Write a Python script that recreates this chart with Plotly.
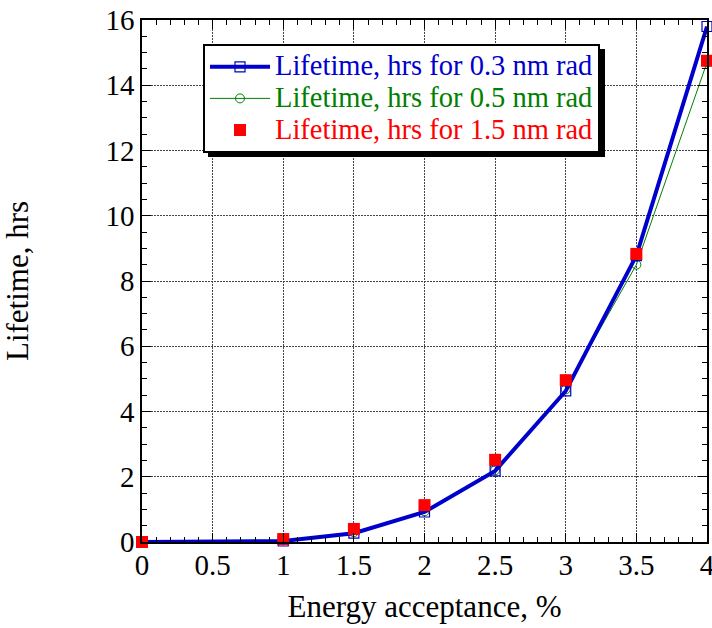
import plotly.graph_objects as go

x_vals = [0, 1, 1.5, 2, 2.5, 3, 3.5, 4]
life_03 = [0.0, 0.03, 0.27, 0.92, 2.18, 4.63, 8.78, 15.8]
life_05 = [0.0, 0.05, 0.3, 0.94, 2.2, 4.68, 8.5, 14.7]
life_15 = [0.0, 0.09, 0.4, 1.13, 2.52, 4.96, 8.83, 14.75]

names = ["Lifetime, hrs for 0.3 nm rad",
         "Lifetime, hrs for 0.5 nm rad",
         "Lifetime, hrs for 1.5 nm rad"]

FONT = "Liberation Serif"
def lg(name, color):
    return f"<span style='color:{color};font-size:28.5px'>{name}</span>"

fig = go.Figure()
fig.add_trace(go.Scatter(x=x_vals, y=life_05, mode="lines+markers",
                         name=lg(names[1], "#008000"), legendrank=2,
                         line=dict(color="#008000", width=1),
                         marker=dict(symbol="circle-open", size=9, color="#008000", line=dict(width=1)),
                         cliponaxis=False))
fig.add_trace(go.Scatter(x=x_vals, y=life_03, mode="lines+markers",
                         name=lg(names[0], "#0000CC"), legendrank=1,
                         line=dict(color="#0000CC", width=4),
                         marker=dict(symbol="square-open", size=10, color="#0000CC", line=dict(width=1.2)),
                         cliponaxis=False))
fig.add_trace(go.Scatter(x=x_vals, y=life_15, mode="markers",
                         name=lg(names[2], "#FF0000"), legendrank=3,
                         marker=dict(symbol="square", size=12, color="#FF0000"),
                         cliponaxis=False))

# legend shadow
L, B = 142, 542
W, H = 565, 522
def px(x): return (x - L) / W
def py(y): return (B - y) / H
fig.add_shape(type="rect", xref="paper", yref="paper",
              x0=px(208), x1=px(605), y0=py(157), y1=py(49),
              fillcolor="black", line=dict(width=0), layer="above")

axis_common = dict(
    showline=True, linecolor="black", linewidth=1.5, mirror="allticks",
    ticks="inside", ticklen=9, tickcolor="black", tickwidth=1,
    showgrid=True, gridcolor="#444", griddash="2px,1px", gridwidth=1.2,
    zeroline=False, tickfont=dict(family=FONT, size=29, color="black"),
    ticklabeloverflow="allow", automargin=False,
)
fig.update_xaxes(range=[0, 4], dtick=0.5, tick0=0, ticklabelstandoff=-4,
                 minor=dict(dtick=0.1, ticks="inside", ticklen=5, tickcolor="black", showgrid=False),
                 title=dict(text="Energy acceptance, %", font=dict(family=FONT, size=31, color="black"), standoff=16),
                 **axis_common)
fig.update_yaxes(range=[0, 16], dtick=2, tick0=0,
                 minor=dict(dtick=0.5, ticks="inside", ticklen=5, tickcolor="black", showgrid=False),
                 title=dict(text="Lifetime, hrs", font=dict(family=FONT, size=31, color="black"), standoff=70),
                 **axis_common)

fig.update_layout(
    width=712, height=628,
    margin=dict(l=142, r=5, t=20, b=86),
    plot_bgcolor="white", paper_bgcolor="white",
    font=dict(family=FONT, color="black"),
    legend=dict(x=px(203), y=py(44), xanchor="left", yanchor="top",
                bgcolor="white", bordercolor="black", borderwidth=2,
                font=dict(family=FONT, size=22), traceorder="normal",
                itemwidth=60, tracegroupgap=0),
    showlegend=True,
)

fig.write_html("out.html")
